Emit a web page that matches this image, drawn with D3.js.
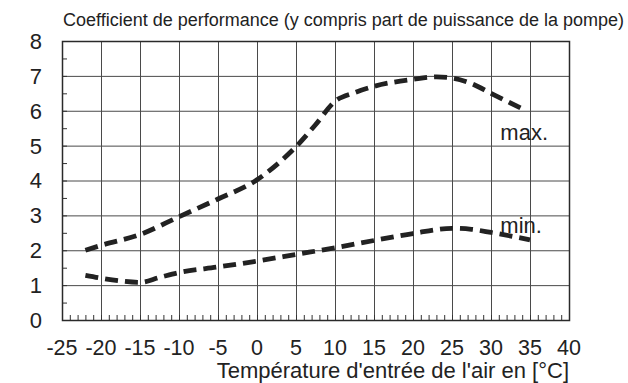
<!DOCTYPE html>
<html>
<head>
<meta charset="utf-8">
<script src="https://cdn.jsdelivr.net/npm/d3@7/dist/d3.min.js"></script>
<style>
  html, body { margin: 0; padding: 0; background: #fff; }
  svg { display: block; font-family: "Liberation Sans", Arial, sans-serif; }
</style>
</head>
<body>
<svg id="chart" width="628" height="383"></svg>
<script>
// Air inlet temperature (°C) and coefficient of performance, max. and min. curves
const maxTemp = [-22, -20, -15, -10, -5, 0, 2.5, 5, 7.5, 10, 12.5, 15, 20, 23, 25, 27.5, 30, 34.5];
const maxCop  = [2.0, 2.14, 2.45, 2.96, 3.47, 4.02, 4.45, 4.97, 5.6, 6.27, 6.52, 6.7, 6.9, 6.97, 6.94, 6.78, 6.5, 6.0];
const minTemp = [-22, -20, -17.5, -15, -12.5, -10, -5, 0, 5, 10, 15, 20, 25, 27.5, 30, 35];
const minCop  = [1.28, 1.2, 1.12, 1.08, 1.22, 1.36, 1.52, 1.69, 1.88, 2.07, 2.28, 2.48, 2.63, 2.6, 2.51, 2.3];
const xTicks = [-25, -20, -15, -10, -5, 0, 5, 10, 15, 20, 25, 30, 35, 40];
const yTicks = [0, 1, 2, 3, 4, 5, 6, 7, 8];
const titleText = "Coefficient de performance (y compris part de puissance de la pompe)";
const xTitleText = "Température d'entrée de l'air en [°C]";
const seriesLabels = [
  { text: "max.", temp: 31.2, cop: 5.16 },
  { text: "min.", temp: 31.2, cop: 2.5 }
];

const svg = d3.select("#chart");
const plotLeft = 62, plotRight = 569, plotTop = 41, plotBottom = 320;

const x = d3.scaleLinear().domain([-25, 40]).range([plotLeft, plotRight]);
const y = d3.scaleLinear().domain([0, 8]).range([plotBottom, plotTop]);

// grid lines
const grid = svg.append("g").attr("stroke", "#4a4a4a").attr("stroke-width", 1);
grid.selectAll("line.v").data(xTicks.slice(1, -1)).join("line")
  .attr("x1", d => x(d) + 0.5).attr("x2", d => x(d) + 0.5)
  .attr("y1", plotTop).attr("y2", plotBottom);
grid.selectAll("line.h").data(yTicks.slice(1, -1)).join("line")
  .attr("x1", plotLeft).attr("x2", plotRight)
  .attr("y1", d => y(d) + 0.5).attr("y2", d => y(d) + 0.5);

// minor ticks on the x axis (every 1 °C) and y axis (every 0.5)
const xMinor = d3.range(-25, 40.01, 1);
svg.append("g").attr("transform", `translate(0,${plotBottom})`)
  .call(d3.axisBottom(x).tickValues(xMinor).tickSize(-5).tickFormat(""))
  .call(g => g.select(".domain").remove())
  .call(g => g.selectAll("line").attr("stroke", "#333"));
const yMinor = d3.range(0, 8.01, 0.5);
svg.append("g").attr("transform", `translate(${plotLeft},0)`)
  .call(d3.axisLeft(y).tickValues(yMinor).tickSize(-5).tickFormat(""))
  .call(g => g.select(".domain").remove())
  .call(g => g.selectAll("line").attr("stroke", "#333"));

// plot frame
svg.append("rect")
  .attr("x", plotLeft + 0.5).attr("y", plotTop + 0.5)
  .attr("width", plotRight - plotLeft).attr("height", plotBottom - plotTop)
  .attr("fill", "none").attr("stroke", "#2a2a2a").attr("stroke-width", 1.5);

// tick labels
svg.append("g").selectAll("text").data(xTicks).join("text")
  .attr("x", d => x(d)).attr("y", 355)
  .attr("text-anchor", "middle")
  .attr("font-size", 21.5).attr("fill", "#222")
  .text(d => d);
svg.append("g").selectAll("text").data(yTicks).join("text")
  .attr("x", 42).attr("y", d => y(d))
  .attr("dy", "0.36em")
  .attr("text-anchor", "end")
  .attr("font-size", 22).attr("fill", "#222")
  .text(d => d);

// titles
svg.append("text").attr("x", 63).attr("y", 26)
  .attr("font-size", 18).attr("fill", "#222")
  .text(titleText);
svg.append("text").attr("x", plotRight).attr("y", 378)
  .attr("text-anchor", "end")
  .attr("font-size", 22).attr("fill", "#222")
  .text(xTitleText);

// dashed COP curves
const line = d3.line()
  .x(d => x(d[0])).y(d => y(d[1]))
  .curve(d3.curveMonotoneX);
const curves = [d3.zip(maxTemp, maxCop), d3.zip(minTemp, minCop)];
svg.append("g").selectAll("path").data(curves).join("path")
  .attr("d", line)
  .attr("fill", "none")
  .attr("stroke", "#222")
  .attr("stroke-width", 4.8)
  .attr("stroke-dasharray", "13,7");

// series labels
svg.append("g").selectAll("text").data(seriesLabels).join("text")
  .attr("x", d => x(d.temp)).attr("y", d => y(d.cop))
  .attr("font-size", 22).attr("fill", "#222")
  .text(d => d.text);
</script>
</body>
</html>
